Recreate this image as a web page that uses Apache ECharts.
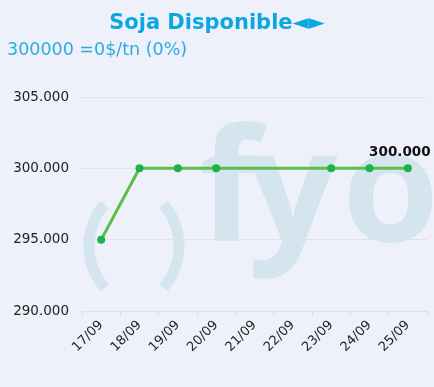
<!DOCTYPE html>
<html><head><meta charset="utf-8">
<script src="https://cdn.jsdelivr.net/npm/echarts@6/dist/echarts.min.js"></script>
<style>html,body{margin:0;padding:0;background:#eef1fa}#c{width:434px;height:387px}</style>
</head><body><div id="c"></div>
<script>
const categories = ['17/09','18/09','19/09','20/09','21/09','22/09','23/09','24/09','25/09'];
const values = [295000, 300000, 300000, 300000, null, null, 300000, 300000, 300000];
const yTicks = [290000, 295000, 300000, 305000];
const titleText = 'Soja Disponible◄►';
const subtitleText = '300000 =0$/tn (0%)';

const fmt = v => (v/1000).toFixed(3);
const chart = echarts.init(document.getElementById('c'));
const wm = '#d5e5ef';
const wmFont = 'bold 157px "Open Sans"';
chart.setOption({
  backgroundColor: '#eef1fa',
  animation: false,
  title: [
    {text: titleText, left: 'center', top: 8, textStyle:{fontFamily:'DejaVu Sans', fontSize:21, fontWeight:'bold', color:'#0aa7e1'}},
    {text: subtitleText, left: 2, top: 36, textStyle:{fontFamily:'DejaVu Sans', fontSize:17.5, fontWeight:'normal', color:'#2aace2'}}
  ],
  graphic: [
    {type:'arc', z:-1, shape:{cx:152, cy:246, r:63, startAngle:Math.PI-0.72, endAngle:Math.PI+0.72}, style:{stroke:wm, lineWidth:11, fill:null}},
    {type:'arc', z:-1, shape:{cx:116, cy:246, r:63, startAngle:-0.72, endAngle:0.72}, style:{stroke:wm, lineWidth:11, fill:null}},
    {type:'text', z:-1, left:199, top:118, style:{text:'f', font:wmFont, fill:wm}},
    {type:'text', z:-1, left:248, top:118, style:{text:'y', font:wmFont, fill:wm}},
    {type:'text', z:-1, left:342, top:118, style:{text:'o', font:wmFont, fill:wm}}
  ],
  grid: {left:82, right:7, top:97, bottom:76},
  xAxis: {
    type:'category', data: categories, boundaryGap:true,
    axisLine:{lineStyle:{color:'#e0e0e0'}},
    axisTick:{show:true, lineStyle:{color:'#e0e0e0'}},
    axisLabel:{rotate:45, fontFamily:'DejaVu Sans', fontSize:13, color:'#222', margin:12, interval:0}
  },
  yAxis: {
    type:'value', min: yTicks[0], max: yTicks[yTicks.length-1], interval: 5000,
    axisLine:{show:false}, axisTick:{show:false},
    splitLine:{lineStyle:{color:'#e2e2e2'}},
    axisLabel:{formatter: fmt, fontFamily:'DejaVu Sans', fontSize:13.5, color:'#222', margin:13}
  },
  series: [{
    type:'line', connectNulls:true,
    data: values.map((v,i)=> i===values.length-1 ? {value:v, label:{show:true}} : v),
    lineStyle:{color:'#5cbf4c', width:3},
    itemStyle:{color:'#1cb34b'},
    symbol:'circle', symbolSize:8, showSymbol:true,
    label:{show:false, position:'top', formatter: p=>fmt(p.value), fontFamily:'DejaVu Sans', fontSize:13.5, fontWeight:'bold', color:'#111', offset:[-8,0]}
  }]
});
</script></body></html>
